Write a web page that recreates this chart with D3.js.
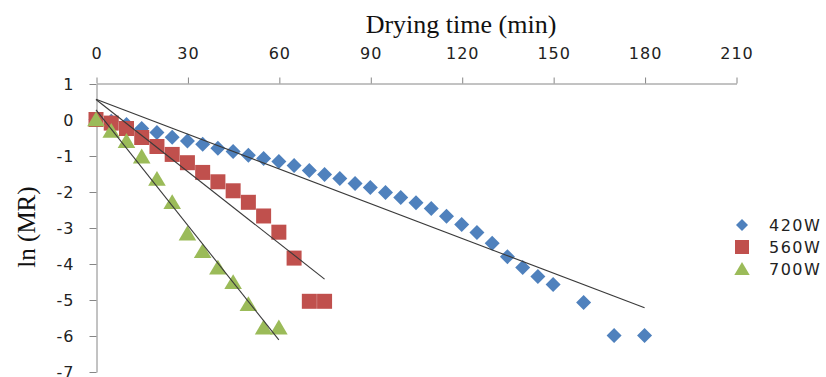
<!DOCTYPE html>
<html>
<head>
<meta charset="utf-8">
<script src="https://cdn.jsdelivr.net/npm/d3@7"></script>
<style>
  body { margin: 0; background: #fff; }
  svg { display: block; }
</style>
</head>
<body>
<svg id="chart" width="826" height="377"></svg>
<script>
// drying time (min) and ln(MR)
const t420 = [0, 5, 10, 15, 20, 25, 30, 35, 40, 45, 50, 55, 60, 65, 70, 75, 80, 85, 90, 95, 100,
  105, 110, 115, 120, 125, 130, 135, 140, 145, 150, 160, 170, 180];
const ln420 = [0, -0.05, -0.14, -0.25, -0.36, -0.49, -0.6, -0.69, -0.8, -0.89, -0.99, -1.08, -1.17,
  -1.28, -1.42, -1.53, -1.64, -1.78, -1.89, -2.03, -2.17, -2.31, -2.47, -2.69, -2.92, -3.14,
  -3.44, -3.81, -4.11, -4.36, -4.58, -5.08, -6.0, -6.0];

const t560 = [0, 5, 10, 15, 20, 25, 30, 35, 40, 45, 50, 55, 60, 65, 70, 75];
const ln560 = [0, -0.1, -0.25, -0.5, -0.75, -0.97, -1.2, -1.47, -1.73, -1.98, -2.3, -2.68,
  -3.13, -3.85, -5.05, -5.05];

const t700 = [0, 5, 10, 15, 20, 25, 30, 35, 40, 45, 50, 55, 60];
const ln700 = [0, -0.32, -0.6, -1.03, -1.65, -2.3, -3.17, -3.66, -4.12, -4.52, -5.13, -5.78, -5.78];

const seriesNames = ["420W", "560W", "700W"];
const xTicks = [0, 30, 60, 90, 120, 150, 180, 210];
const yTicks = [1, 0, -1, -2, -3, -4, -5, -6, -7];

const colors = ["#4f81bd", "#c0504d", "#9bbb59"];
const shapes = ["diamond", "square", "triangle"];

const series = [
  { name: seriesNames[0], t: t420, v: ln420 },
  { name: seriesNames[1], t: t560, v: ln560 },
  { name: seriesNames[2], t: t700, v: ln700 }
];

const svg = d3.select("#chart");

const x = d3.scaleLinear().domain([0, 210]).range([96, 736]);
const y = d3.scaleLinear().domain([1, -7]).range([83.5, 371.5]);

// caption of the figure, mostly above the top of the picture
svg.append("text")
  .attr("x", -14)
  .attr("y", -8)
  .attr("font-family", "Liberation Serif")
  .attr("font-size", 32)
  .attr("fill", "#1e7a1e")
  .text("Fig. 2. ln (MR) with drying time for microwave power at 420, 560 and 700 W");

function symbolPath(shape, s) {
  if (shape == "diamond") {
    return `M0,${-s}L${s},0L0,${s}L${-s},0Z`;
  } else if (shape == "square") {
    return `M${-s},${-s}H${s}V${s}H${-s}Z`;
  }
  return `M0,${-s}L${s * 1.1},${s * 0.85}H${-s * 1.1}Z`;
}

// least squares line like the excel trendline
function fit(ts, vs) {
  const mt = d3.mean(ts), mv = d3.mean(vs);
  let num = 0, den = 0;
  ts.forEach((t, i) => {
    num += (t - mt) * (vs[i] - mv);
    den += (t - mt) * (t - mt);
  });
  const k = num / den;
  return { k: k, b: mv - k * mt };
}

// axes
const axisColor = "#868686";

const xAxis = svg.append("g")
  .attr("transform", "translate(0.5,83.5)")
  .call(d3.axisTop(x).tickValues(xTicks).tickSize(6).tickSizeOuter(0).tickPadding(19));

const yAxis = svg.append("g")
  .attr("transform", "translate(96.5,0.5)")
  .call(d3.axisLeft(y).tickValues(yTicks).tickSize(7).tickSizeOuter(0).tickPadding(15)
    .tickFormat(d => String(d)));

[xAxis, yAxis].forEach(g => {
  g.select(".domain").attr("stroke", axisColor);
  g.selectAll(".tick line").attr("stroke", axisColor);
  g.selectAll(".tick text")
    .attr("fill", "#222")
    .attr("font-family", "DejaVu Sans")
    .attr("font-size", 16)
    .attr("letter-spacing", 1);
});

// markers
series.forEach((s, si) => {
  const size = si == 2 ? 8 : 7.5;
  svg.append("g")
    .selectAll("path")
    .data(s.t.map((t, i) => ({ t: t, v: s.v[i] })))
    .join("path")
      .attr("transform", d => `translate(${x(d.t)},${y(d.v)})`)
      .attr("d", symbolPath(shapes[si], size))
      .attr("fill", colors[si]);
});

// trend lines
series.forEach(s => {
  const f = fit(s.t, s.v);
  const t1 = d3.max(s.t);
  svg.append("line")
    .attr("x1", x(0)).attr("y1", y(f.b))
    .attr("x2", x(t1)).attr("y2", y(f.b + f.k * t1))
    .attr("stroke", "#3a3a3a")
    .attr("stroke-width", 1.1);
});

// axis titles
svg.append("text")
  .attr("x", 461)
  .attr("y", 33)
  .attr("text-anchor", "middle")
  .attr("font-family", "Liberation Serif")
  .attr("font-size", 26)
  .attr("fill", "#111")
  .text("Drying time (min)");

svg.append("text")
  .attr("transform", "translate(35,227) rotate(-90)")
  .attr("text-anchor", "middle")
  .attr("font-family", "Liberation Serif")
  .attr("font-size", 25)
  .attr("fill", "#111")
  .text("ln (MR)");

// legend
const legend = svg.append("g").attr("transform", "translate(742,225)");
series.forEach((s, si) => {
  const row = legend.append("g").attr("transform", `translate(0,${si * 22})`);
  row.append("path")
    .attr("d", symbolPath(shapes[si], si == 0 ? 6 : 7))
    .attr("fill", colors[si]);
  row.append("text")
    .attr("x", 27)
    .attr("y", 5.5)
    .attr("font-family", "DejaVu Sans")
    .attr("font-size", 16)
    .attr("letter-spacing", 1.5)
    .attr("fill", "#222")
    .text(s.name);
});
</script>
</body>
</html>
